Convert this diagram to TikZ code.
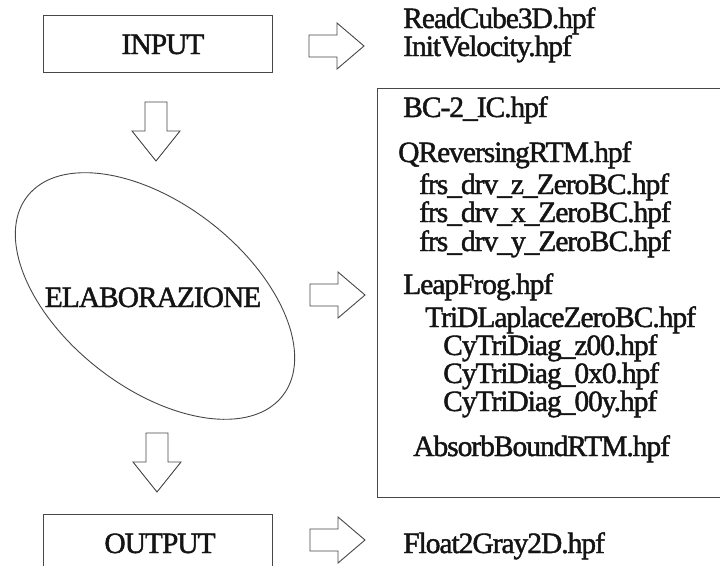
\documentclass[tikz,border=0pt]{standalone}
\usepackage{fontspec}
\setmainfont{Liberation Serif}[LetterSpace=-3.5, FakeBold=1.5]
\usetikzlibrary{shapes.geometric}
\begin{document}
\begin{tikzpicture}[x=1pt,y=-1pt,
  line/.style={draw=black!72, line width=0.9pt},
  lbl/.style={inner sep=0pt, anchor=base west, font=\fontsize{29.5}{31}\selectfont, text=black!92},
  ctr/.style={inner sep=0pt, anchor=base, font=\fontsize{29.5}{31}\selectfont, text=black!92},
  boxnode/.style={line, rectangle, inner sep=0pt, outer sep=0pt},
  barrow/.style={line, fill=white, line join=miter},
  rarrow/.pic={\draw[barrow] (0,-11) -- (28,-11) -- (28,-23) -- (55,0) -- (28,23) -- (28,11) -- (0,11) -- cycle;},
  darrow/.pic={\draw[barrow] (-11,0) -- (11,0) -- (11,29) -- (24,29) -- (0,59) -- (-24,29) -- (-11,29) -- cycle;}]
\useasboundingbox (0,0) rectangle (720,565);
\clip (0,0) rectangle (720,565);

% left column
\node[boxnode, anchor=north west, minimum width=229pt, minimum height=57pt] (inbox) at (43,15) {};
\node[ctr] (input) at (163,54) {INPUT};
\pic (down1) at (156,102) {darrow};
\node[line, ellipse, minimum width=324pt, minimum height=184pt, rotate=-38, inner sep=0pt] (ell) at (155,296) {};
\node[ctr] (elab) at (153,307) {ELABORAZIONE};
\pic (down2) at (157,433) {darrow};
\node[boxnode, anchor=north west, minimum width=229pt, minimum height=80pt] (outbox) at (43,514) {};
\node[ctr] (output) at (160,553) {OUTPUT};

% arrows to the right
\pic (right1) at (309,46) {rarrow};
\pic (right2) at (310,295) {rarrow};
\pic (right3) at (310,540) {rarrow};

% input files
\node[lbl] (f1) at (403,28) {ReadCube3D.hpf};
\node[lbl] (f2) at (403,56) {InitVelocity.hpf};

% processing files
\node[boxnode, anchor=north west, minimum width=380pt, minimum height=409pt] (listbox) at (377,88) {};
\node[lbl] (p1) at (403,117) {BC-2\_IC.hpf};
\node[lbl] (p2) at (398,162) {QReversingRTM.hpf};
\node[lbl] (p3) at (419,194) {frs\_drv\_z\_ZeroBC.hpf};
\node[lbl] (p4) at (419,222) {frs\_drv\_x\_ZeroBC.hpf};
\node[lbl] (p5) at (419,251) {frs\_drv\_y\_ZeroBC.hpf};
\node[lbl] (p6) at (403,294) {LeapFrog.hpf};
\node[lbl] (p7) at (425,327) {TriDLaplaceZeroBC.hpf};
\node[lbl] (p8) at (443,355) {CyTriDiag\_z00.hpf};
\node[lbl] (p9) at (443,383) {CyTriDiag\_0x0.hpf};
\node[lbl] (p10) at (443,411) {CyTriDiag\_00y.hpf};
\node[lbl] (p11) at (413,456) {AbsorbBoundRTM.hpf};

% output file
\node[lbl] (o1) at (403,553) {Float2Gray2D.hpf};
\end{tikzpicture}
\end{document}
